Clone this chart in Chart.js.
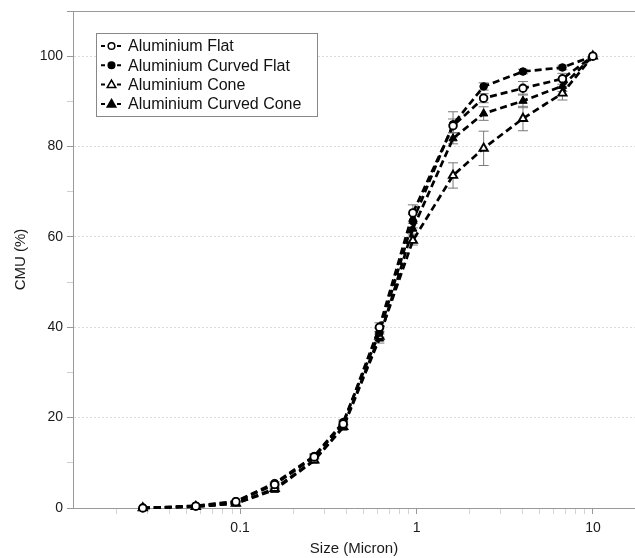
<!DOCTYPE html>
<html>
<head>
<meta charset="utf-8">
<title>CMU vs size</title>
<script src="https://cdn.jsdelivr.net/npm/chart.js@4.4.1/dist/chart.umd.min.js"></script>
<style>
    html, body { margin: 0; padding: 0; background: #fff; }
    #wrap { width: 635px; height: 558px; }
</style>
</head>
<body>
<div id="wrap"><canvas id="myChart" width="635" height="558"></canvas></div>
<script>
// stage cut sizes (micron)
const sizes = [0.0281, 0.0561, 0.0947, 0.157, 0.263, 0.384, 0.616, 0.953, 1.61, 2.40, 4.01, 6.71, 9.98];

// CMU (%) for each plate
const flat        = [0, 0.4, 1.4, 5.2, 11.3, 18.6, 40.0, 65.3, 84.6, 90.7, 92.9, 95.0, 100];
const curvedFlat  = [0, 0.5, 1.5, 5.5, 11.5, 19.0, 38.8, 63.5, 84.9, 93.3, 96.6, 97.5, 100];
const cone        = [0, 0.3, 1.0, 4.3, 10.6, 18.0, 38.0, 59.2, 73.6, 79.6, 86.2, 91.8, 100];
const curvedCone  = [0, 0.3, 1.0, 4.0, 10.5, 17.8, 37.5, 61.8, 81.8, 87.3, 90.1, 93.4, 100];

// error bars (+/-)
const flatErr       = [0, 0, 0, 0.3, 0.5, 0.5, 1.0, 1.8, 1.5, 1.0, 1.5, 1.2, 0];
const curvedFlatErr = [0, 0, 0, 0.3, 0.5, 0.5, 1.0, 1.5, 2.8, 0.8, 0.5, 0.5, 0];
const coneErr       = [0, 0, 0, 0.3, 0.5, 0.5, 1.0, 1.0, 2.8, 3.8, 2.7, 1.5, 0];
const curvedConeErr = [0, 0, 0, 0.3, 0.5, 0.5, 1.0, 1.2, 1.2, 1.5, 1.5, 1.2, 0];

const labels = ['Aluminium Flat', 'Aluminium Curved Flat', 'Aluminium Cone', 'Aluminium Curved Cone'];

// axis ticks
const xMajorTicks = [0.1, 1, 10];
const xMinorTicks = [0.02, 0.03, 0.04, 0.05, 0.06, 0.07, 0.08, 0.09,
                     0.2, 0.3, 0.4, 0.5, 0.6, 0.7, 0.8, 0.9,
                     2, 3, 4, 5, 6, 7, 8, 9];
const yLabelTicks = [0, 20, 40, 60, 80, 100];

const FONT = '"Liberation Sans", Arial, Helvetica, sans-serif';

function points(vals) {
    return vals.map(function (v, i) { return { x: sizes[i], y: v }; });
}

function makeSet(label, vals, errs, style, open) {
    return {
        label: label,
        data: points(vals),
        errors: errs,
        open: open,
        borderColor: '#000',
        borderWidth: 2.7,
        borderDash: [7, 4],
        fill: false,
        tension: 0,
        clip: false,
        pointStyle: style,
        pointRadius: style === 'triangle' ? 4.8 : 3.8,
        pointBackgroundColor: open ? '#fff' : '#000',
        pointBorderColor: '#000',
        pointBorderWidth: open ? 1.9 : 1
    };
}

// grey error bars behind the markers
const errorBars = {
    id: 'errorBars',
    beforeDatasetsDraw(chart) {
        const ctx = chart.ctx;
        const xs = chart.scales.x, ys = chart.scales.y;
        ctx.save();
        ctx.strokeStyle = '#7a7a7a';
        ctx.lineWidth = 1;
        chart.data.datasets.forEach(function (ds) {
            ds.data.forEach(function (p, i) {
                const e = ds.errors[i];
                if (!e) return;
                const px = xs.getPixelForValue(p.x);
                const top = ys.getPixelForValue(p.y + e);
                const bot = ys.getPixelForValue(p.y - e);
                ctx.beginPath();
                ctx.moveTo(px, top); ctx.lineTo(px, bot);
                ctx.moveTo(px - 5, top); ctx.lineTo(px + 5, top);
                ctx.moveTo(px - 5, bot); ctx.lineTo(px + 5, bot);
                ctx.stroke();
            });
        });
        ctx.restore();
    }
};

// top frame line + boxed legend inside the plot
const frameAndLegend = {
    id: 'frameAndLegend',
    afterDraw(chart) {
        const ctx = chart.ctx, area = chart.chartArea;
        ctx.save();
        ctx.strokeStyle = '#999';
        ctx.lineWidth = 1;
        ctx.beginPath();
        ctx.moveTo(area.left - 6, area.top + 0.5);
        ctx.lineTo(area.right, area.top + 0.5);
        ctx.stroke();

        const left = Math.round(area.left + 23), top = Math.round(area.top + 22);
        const w = 221, h = 83, row = 19.3;
        ctx.fillStyle = '#fff';
        ctx.fillRect(left, top, w, h);
        ctx.strokeStyle = '#888';
        ctx.strokeRect(left + 0.5, top + 0.5, w, h);

        ctx.font = '16px ' + FONT;
        ctx.textBaseline = 'middle';
        chart.data.datasets.forEach(function (ds, i) {
            const cy = top + 13 + i * row;
            const cx = left + 15.5;
            ctx.strokeStyle = '#000';
            ctx.lineWidth = 2;
            ctx.setLineDash([4, 4]);
            ctx.beginPath();
            ctx.moveTo(left + 5, cy);
            ctx.lineTo(left + 27, cy);
            ctx.stroke();
            ctx.setLineDash([]);

            ctx.fillStyle = ds.open ? '#fff' : '#000';
            ctx.lineWidth = 1.5;
            ctx.beginPath();
            if (ds.pointStyle === 'triangle') {
                ctx.moveTo(cx, cy - 4.5);
                ctx.lineTo(cx + 4.3, cy + 3);
                ctx.lineTo(cx - 4.3, cy + 3);
                ctx.closePath();
            } else {
                ctx.arc(cx, cy, 3.3, 0, Math.PI * 2);
            }
            ctx.fill();
            ctx.stroke();

            ctx.fillStyle = '#111';
            ctx.fillText(ds.label, left + 32, cy + 1);
        });
        ctx.restore();
    }
};

const data = {
    datasets: [
        makeSet(labels[0], flat, flatErr, 'circle', true),
        makeSet(labels[1], curvedFlat, curvedFlatErr, 'circle', false),
        makeSet(labels[2], cone, coneErr, 'triangle', true),
        makeSet(labels[3], curvedCone, curvedConeErr, 'triangle', false)
    ]
};

const config = {
    type: 'line',
    data: data,
    plugins: [errorBars, frameAndLegend],
    options: {
        responsive: false,
        devicePixelRatio: 1,
        animation: false,
        events: [],
        layout: { autoPadding: false, padding: { top: 11, left: 0, right: 0, bottom: 0 } },
        plugins: {
            legend: { display: false },
            tooltip: { enabled: false }
        },
        scales: {
            x: {
                type: 'logarithmic',
                min: 0.0113,
                max: 17.3,
                afterBuildTicks: function (scale) {
                    scale.ticks = xMajorTicks.concat(xMinorTicks)
                        .sort(function (a, b) { return a - b; })
                        .map(function (v) { return { value: v }; });
                },
                afterFit: function (scale) {
                    scale.height = 50;
                    scale.paddingLeft = 0;
                    scale.paddingRight = 0;
                },
                ticks: {
                    autoSkip: false,
                    maxRotation: 0,
                    padding: 6,
                    color: '#1a1a1a',
                    font: { family: FONT, size: 14 },
                    callback: function (v) {
                        return xMajorTicks.indexOf(v) >= 0 ? String(v) : '';
                    }
                },
                grid: {
                    drawOnChartArea: false,
                    tickLength: 6,
                    tickColor: function (c) {
                        return c.tick && xMajorTicks.indexOf(c.tick.value) >= 0 ? '#999' : '#d4d4d4';
                    }
                },
                border: { color: '#999', width: 1 },
                title: {
                    display: true,
                    text: 'Size (Micron)',
                    color: '#1a1a1a',
                    font: { family: FONT, size: 15 },
                    padding: { top: 0, bottom: 0 }
                }
            },
            y: {
                min: 0,
                max: 110,
                afterFit: function (scale) {
                    scale.width = 73;
                    scale.paddingTop = 0;
                    scale.paddingBottom = 0;
                },
                ticks: {
                    stepSize: 10,
                    autoSkip: false,
                    padding: 4,
                    color: '#1a1a1a',
                    font: { family: FONT, size: 14 },
                    callback: function (v) {
                        return yLabelTicks.indexOf(v) >= 0 ? String(v) : '';
                    }
                },
                grid: {
                    tickLength: 6,
                    color: function (c) {
                        const v = c.tick ? c.tick.value : 0;
                        return (v > 0 && yLabelTicks.indexOf(v) >= 0) ? '#dcdcdc' : 'rgba(0,0,0,0)';
                    },
                    tickColor: function (c) {
                        return c.tick && yLabelTicks.indexOf(c.tick.value) >= 0 ? '#999' : '#d0d0d0';
                    }
                },
                border: { color: '#999', width: 1, dash: [2, 2] },
                title: {
                    display: true,
                    text: 'CMU (%)',
                    color: '#1a1a1a',
                    font: { family: FONT, size: 15 },
                    padding: { top: 12, bottom: 0 }
                }
            }
        }
    }
};

const myChart = new Chart(document.getElementById('myChart'), config);
</script>
</body>
</html>
